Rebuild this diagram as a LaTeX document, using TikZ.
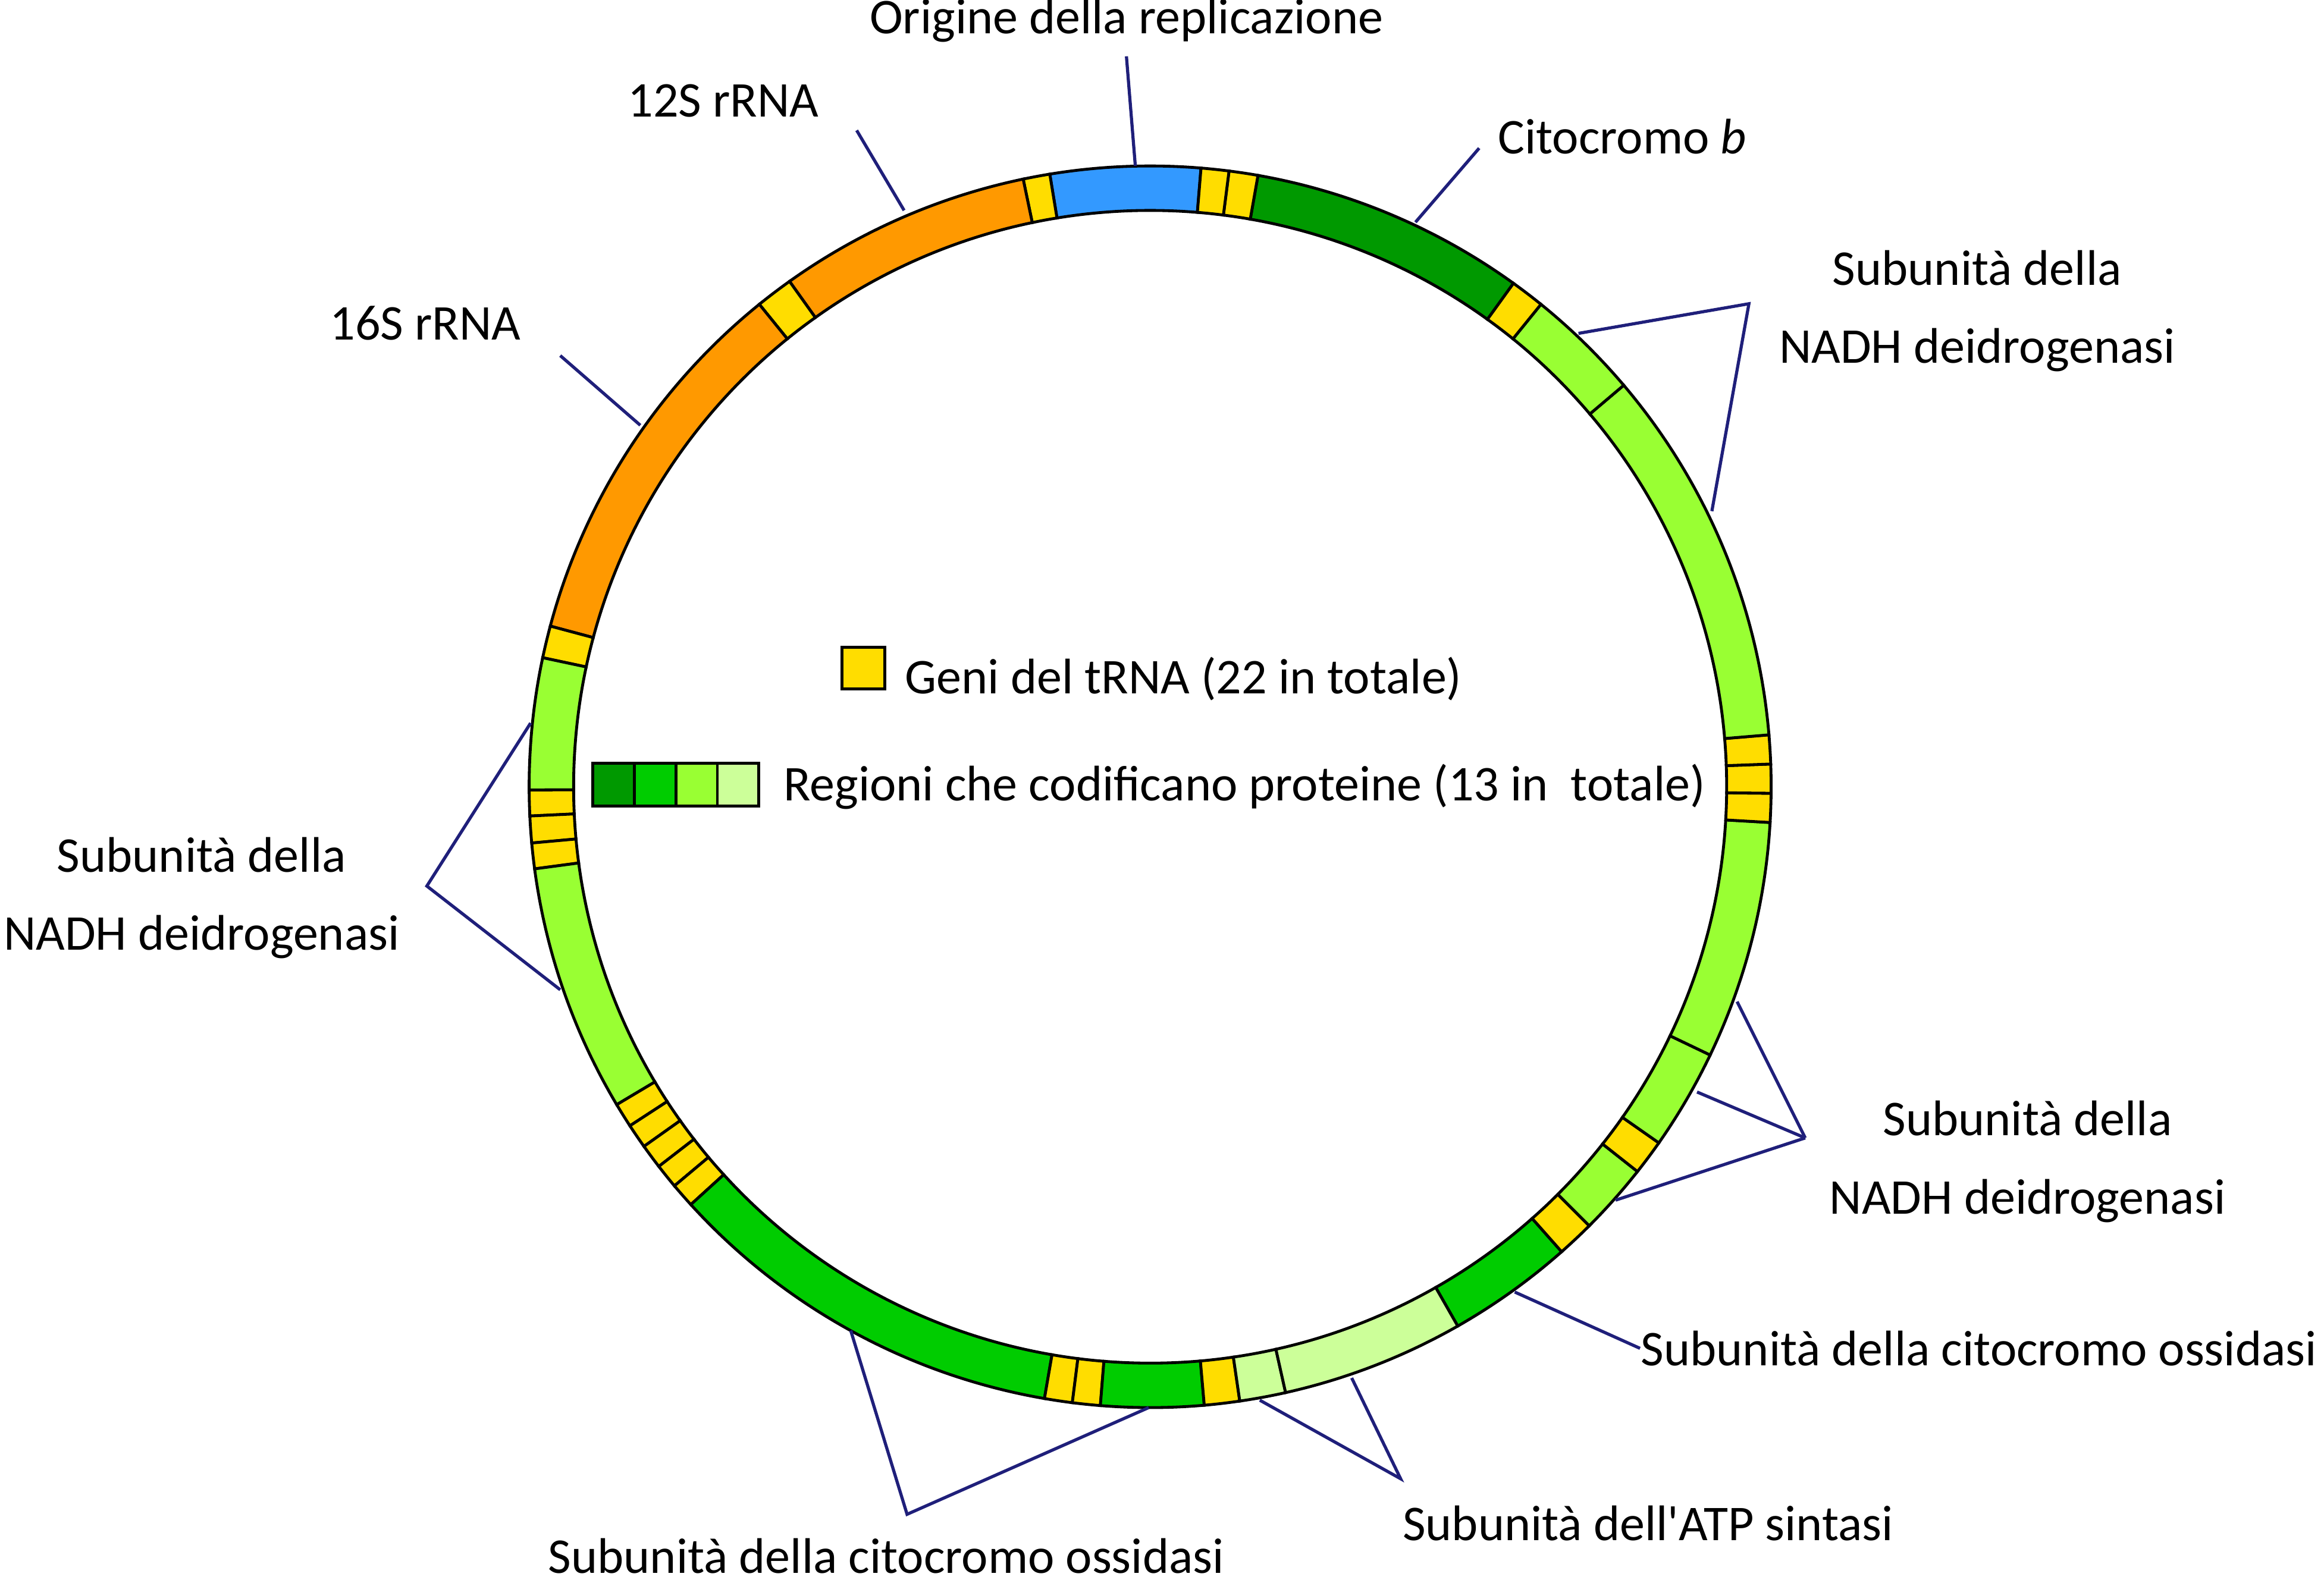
\documentclass[tikz,border=0pt]{standalone}
\usepackage{fontspec}
\setmainfont{Carlito}
\definecolor{trna}{HTML}{FFDD00}
\definecolor{rrna}{HTML}{FF9900}
\definecolor{ori}{HTML}{3399FF}
\definecolor{gdark}{HTML}{009900}
\definecolor{gmid}{HTML}{00CC00}
\definecolor{glight}{HTML}{99FF33}
\definecolor{gpale}{HTML}{CCFF99}
\definecolor{lead}{HTML}{1F1F7A}
\tikzset{
  lbl/.style={font=\fontsize{9.6}{11}\selectfont, inner sep=0pt},
  leader/.style={draw=lead, line width=0.6pt},
  seg/.style={draw=black, line width=0.55pt}
}
% ring segment: start angle, end angle, colour
\newcommand{\ringseg}[3]{%
  \filldraw[seg, fill=#3] ([shift={(#1:419)}]ctr) arc[start angle=#1, end angle=#2, radius=419]
    -- ([shift={(#2:389)}]ctr) arc[start angle=#2, end angle=#1, radius=389] -- cycle;}
\begin{document}
\begin{tikzpicture}[x=0.01cm, y=0.01cm]
\useasboundingbox (0,0) rectangle (1568,1066);
\coordinate (ctr) at (776,535);
% ring
\ringseg{85.3}{99.3}{ori}
\ringseg{99.3}{101.8}{trna}
\ringseg{101.8}{125.5}{rrna}
\ringseg{125.5}{129}{trna}
\ringseg{129}{165}{rrna}
\ringseg{165}{168}{trna}
\ringseg{168}{180.3}{glight}
\foreach \a/\b in {180.3/182.7,182.7/185.2,185.2/187.6} {\ringseg{\a}{\b}{trna}}
\ringseg{187.6}{210.8}{glight}
\foreach \a/\b in {210.8/213.1,213.1/215.4,215.4/217.7,217.7/220,220/222.3} {\ringseg{\a}{\b}{trna}}
\ringseg{222.3}{260.2}{gmid}
\foreach \a/\b in {260.2/262.8,262.8/265.4} {\ringseg{\a}{\b}{trna}}
\ringseg{265.4}{275}{gmid}
\ringseg{275}{278.3}{trna}
\ringseg{278.3}{282.6}{gpale}
\ringseg{282.6}{299.7}{gpale}
\ringseg{299.7}{311.5}{gmid}
\ringseg{311.5}{315}{trna}
\ringseg{315}{321.7}{glight}
\ringseg{321.7}{325}{trna}
\ringseg{325}{334.4}{glight}
\ringseg{334.4}{356.7}{glight}
\foreach \a/\b in {356.7/359.4,359.4/362.1,362.1/364.8} {\ringseg{\a}{\b}{trna}}
\ringseg{4.8}{40.3}{glight}
\ringseg{40.3}{51}{glight}
\ringseg{51}{54.2}{trna}
\ringseg{54.2}{80}{gdark}
\foreach \a/\b in {80/82.7,82.7/85.3} {\ringseg{\a}{\b}{trna}}
% labels
\node[lbl] (ori) at (760,1052) {Origine della replicazione};
\node[lbl] (r12) at (488,998) {12S rRNA};
\node[lbl] (r16) at (287,848) {16S rRNA};
\node[lbl, anchor=west] (cytb) at (1010,974) {Citocromo \textit{b}};
\node[lbl, align=center] (nadA) at (1334,856) {Subunità della\\[4pt]NADH deidrogenasi};
\node[lbl, align=center] (nadB) at (136,460) {Subunità della\\[4pt]NADH deidrogenasi};
\node[lbl, align=center] (nadC) at (1368,282) {Subunità della\\[4pt]NADH deidrogenasi};
\node[lbl, anchor=east] (coxA) at (1564,156) {Subunità della citocromo ossidasi};
\node[lbl] (atp) at (1112,38) {Subunità dell\textquotesingle ATP sintasi};
\node[lbl] (coxB) at (598,16) {Subunità della citocromo ossidasi};
% leader lines
\coordinate (p1) at (760,1028); \coordinate (q1) at (766,954);
\coordinate (p2) at (578,978);  \coordinate (q2) at (610,924);
\coordinate (p3) at (378,826);  \coordinate (q3) at (432,779);
\coordinate (p4) at (998,966);  \coordinate (q4) at (955,916);
\coordinate (ka) at (1180,861);
\coordinate (kb) at (288,468);
\coordinate (kc) at (1218,298);
\coordinate (kd) at (945,68);
\coordinate (ke) at (612,44);
\draw[leader] (p1) -- (q1);
\draw[leader] (p2) -- (q2);
\draw[leader] (p3) -- (q3);
\draw[leader] (p4) -- (q4);
\draw[leader] (1065,841) -- (ka) -- (1155,721);
\draw[leader] (358,578) -- (kb) -- (378,398);
\foreach \p in {(1172,390),(1145,329),(1090,256)} {\draw[leader] \p -- (kc);}
\draw[leader] (1022,194) -- (coxA.west);
\draw[leader] (912,136) -- (kd) -- (850,121);
\draw[leader] (574,168) -- (ke) -- (775,116);
% legend
\filldraw[seg, fill=trna] (568,601) rectangle (597,629);
\node[lbl, anchor=west] (legA) at (610,608) {Geni del tRNA (22 in totale)};
\foreach \c [count=\i from 0] in {gdark,gmid,glight,gpale}
  {\filldraw[seg, fill=\c] (400+28*\i,522) rectangle (428+28*\i,551);}
\node[lbl, anchor=west] (legB) at (528,535) {Regioni che codificano proteine (13 in\ \ totale)};
\end{tikzpicture}
\end{document}
